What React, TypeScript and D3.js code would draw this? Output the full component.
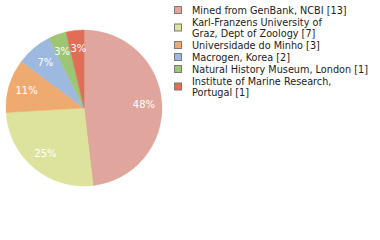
import React from "react";
import * as d3 from "d3";

const sources = [
  "Mined from GenBank, NCBI",
  "Karl-Franzens University of Graz, Dept of Zoology",
  "Universidade do Minho",
  "Macrogen, Korea",
  "Natural History Museum, London",
  "Institute of Marine Research, Portugal",
];
const legendLines = [
  ["Mined from GenBank, NCBI [13]"],
  ["Karl-Franzens University of", "Graz, Dept of Zoology [7]"],
  ["Universidade do Minho [3]"],
  ["Macrogen, Korea [2]"],
  ["Natural History Museum, London [1]"],
  ["Institute of Marine Research,", "Portugal [1]"],
];
const counts = [13, 7, 3, 2, 1, 1];
const colors = ["#e0a59d", "#dde39d", "#efab6f", "#9db9df", "#9dc573", "#e06e57"];

const W = 380;
const H = 240;
const cx = 84;
const cy = 108;
const R = 78;
const LABEL_FONT = 10;

export default function App() {
  const total = d3.sum(counts);
  const pie = d3
    .pie<number>()
    .sort(null)
    .value((d) => d)
    .startAngle(0)
    .endAngle(2 * Math.PI);
  const arcs = pie(counts);
  const arc = d3.arc<d3.PieArcDatum<number>>().innerRadius(0).outerRadius(R);
  const labelArc = d3.arc<d3.PieArcDatum<number>>().innerRadius(60).outerRadius(60);

  // percentage labels at the slice centroids, pushed apart when two collide
  const labels = arcs.map((a, i) => {
    const [x, y] = labelArc.centroid(a);
    const text = `${Math.floor((counts[i] / total) * 100)}%`;
    // DejaVu Sans advance widths: digits 0.636em, percent 0.95em
    const w = ((text.length - 1) * 0.636 + 0.95) * LABEL_FONT + 0.5;
    return { x, y, text, w };
  });
  for (let i = 0; i < labels.length; i++) {
    for (let j = i + 1; j < labels.length; j++) {
      const a = labels[i];
      const b = labels[j];
      if (Math.abs(a.y - b.y) > LABEL_FONT) continue;
      const need = (a.w + b.w) / 2 - Math.abs(a.x - b.x);
      if (need > 0) {
        const dir = a.x < b.x ? -1 : 1;
        a.x += (dir * need) / 2;
        b.x -= (dir * need) / 2;
      }
    }
  }

  // legend row positions: one row per line, extra gap between entries
  let y = 10;
  const legendRows = legendLines.map((lines) => {
    const top = y;
    y += lines.length * 11 + 1;
    return { top, lines };
  });

  return (
    <svg width={W} height={H} style={{ position: "absolute", left: 0, top: 0 }}>
      <rect width={W} height={H} fill="#ffffff" />
      <g transform={`translate(${cx},${cy})`}>
        {arcs.map((a, i) => (
          <path key={sources[i]} d={arc(a) || ""} fill={colors[i]} stroke={colors[i]} strokeWidth={0.5} />
        ))}
        {labels.map((l, i) => (
          <text
            key={"l" + i}
            x={l.x}
            y={l.y}
            textAnchor="middle"
            dominantBaseline="central"
            fill="#ffffff"
            fontFamily="DejaVu Sans, sans-serif"
            fontSize={LABEL_FONT}
          >
            {l.text}
          </text>
        ))}
      </g>
      <g fontFamily="DejaVu Sans, sans-serif" fontSize={9.7} fill="#222222">
        {legendRows.map((row, i) => {
          const midY = row.top + ((row.lines.length - 1) * 11) / 2;
          return (
            <g key={"lg" + i}>
              <rect
                x={174.5}
                y={midY - 3.5}
                width={7}
                height={7}
                fill={colors[i]}
                stroke="#7a7a7a"
                strokeWidth={1}
              />
              {row.lines.map((ln, j) => (
                <text key={j} x={192} y={row.top + j * 11} dominantBaseline="central">
                  {ln}
                </text>
              ))}
            </g>
          );
        })}
      </g>
    </svg>
  );
}
